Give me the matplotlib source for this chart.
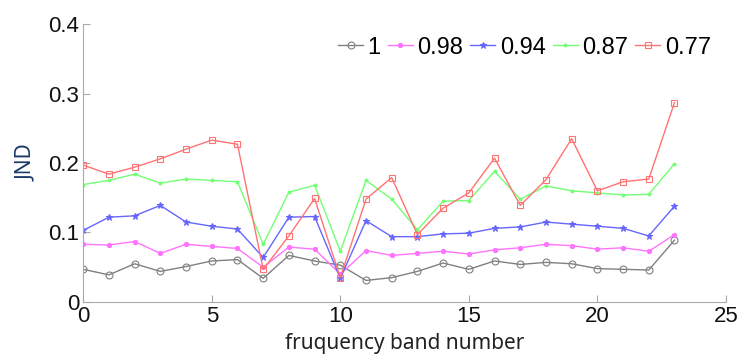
import matplotlib
matplotlib.use("Agg")
import matplotlib.pyplot as plt
import numpy as np

bands = list(range(24))
s1 = [0.047, 0.039, 0.055, 0.044, 0.051, 0.059, 0.061, 0.034, 0.067, 0.059, 0.053, 0.031,
      0.035, 0.044, 0.056, 0.047, 0.059, 0.054, 0.057, 0.055, 0.048, 0.047, 0.046, 0.089]
s098 = [0.083, 0.082, 0.087, 0.070, 0.083, 0.080, 0.077, 0.050, 0.079, 0.076, 0.040, 0.074,
        0.067, 0.070, 0.073, 0.069, 0.075, 0.078, 0.083, 0.081, 0.076, 0.078, 0.073, 0.097]
s094 = [0.103, 0.122, 0.124, 0.139, 0.115, 0.109, 0.105, 0.064, 0.122, 0.123, 0.034, 0.117,
        0.094, 0.094, 0.098, 0.099, 0.106, 0.108, 0.115, 0.112, 0.109, 0.106, 0.095, 0.138]
s087 = [0.169, 0.175, 0.184, 0.171, 0.177, 0.175, 0.173, 0.083, 0.158, 0.168, 0.073, 0.175,
        0.148, 0.104, 0.145, 0.146, 0.188, 0.148, 0.167, 0.160, 0.157, 0.154, 0.155, 0.199]
s077 = [0.197, 0.184, 0.194, 0.206, 0.220, 0.233, 0.227, 0.047, 0.095, 0.149, 0.035, 0.148,
        0.179, 0.097, 0.135, 0.157, 0.207, 0.139, 0.176, 0.235, 0.160, 0.173, 0.177, 0.287]
labels = ["1", "0.98", "0.94", "0.87", "0.77"]
xticks = [0, 5, 10, 15, 20, 25]
yticks = [0, 0.1, 0.2, 0.3, 0.4]
yticklabels = ["0", "0.1", "0.2", "0.3", "0.4"]

plt.rcParams['font.family'] = ['Liberation Sans', 'DejaVu Sans']

fig = plt.figure(figsize=(7.43, 3.54), dpi=100)
ax = fig.add_axes([0.112, 0.147, 0.865, 0.785])

styles = [
    dict(color=(0.5, 0.5, 0.5), marker='o', mfc='none', ms=5),
    dict(color=(1.0, 0.45, 1.0), marker='o', mfc=(1.0, 0.45, 1.0), ms=3),
    dict(color=(0.4, 0.4, 1.0), marker='*', mfc=(0.4, 0.4, 1.0), ms=5),
    dict(color=(0.45, 1.0, 0.45), marker='.', ms=4),
    dict(color=(1.0, 0.45, 0.45), marker='s', mfc='none', ms=5),
]
for ys, lab, st in zip([s1, s098, s094, s087, s077], labels, styles):
    ax.plot(bands, ys, lw=1.0, label=lab, mew=0.8, **st)

ax.set_xlim(0, 25)
ax.set_ylim(0, 0.4)
ax.set_xticks(xticks)
ax.set_yticks(yticks)
ax.set_yticklabels(yticklabels)
for sp in ['top', 'right']:
    ax.spines[sp].set_visible(False)
for sp in ['left', 'bottom']:
    ax.spines[sp].set_color('#aaaaaa')
ax.tick_params(direction='in', color='#aaaaaa', labelsize=16, length=5, labelcolor='#111111')
ax.tick_params(axis='x', pad=3)
ax.tick_params(axis='y', pad=3)
ax.set_xlabel("fruquency band number", fontsize=15, labelpad=4, color='#222222',
              family=['Noto Sans', 'DejaVu Sans'])
ax.set_ylabel("JND", fontsize=15, color='#1a3a6a', labelpad=8,
              family=['Noto Sans', 'DejaVu Sans'])

leg = ax.legend(loc='upper right', ncol=5, frameon=False, fontsize=17,
                handlelength=1.05, handletextpad=0.2, columnspacing=0.3,
                borderaxespad=0.0, borderpad=0.0, bbox_to_anchor=(0.977, 0.955))

fig.savefig("out.png", dpi=100)
